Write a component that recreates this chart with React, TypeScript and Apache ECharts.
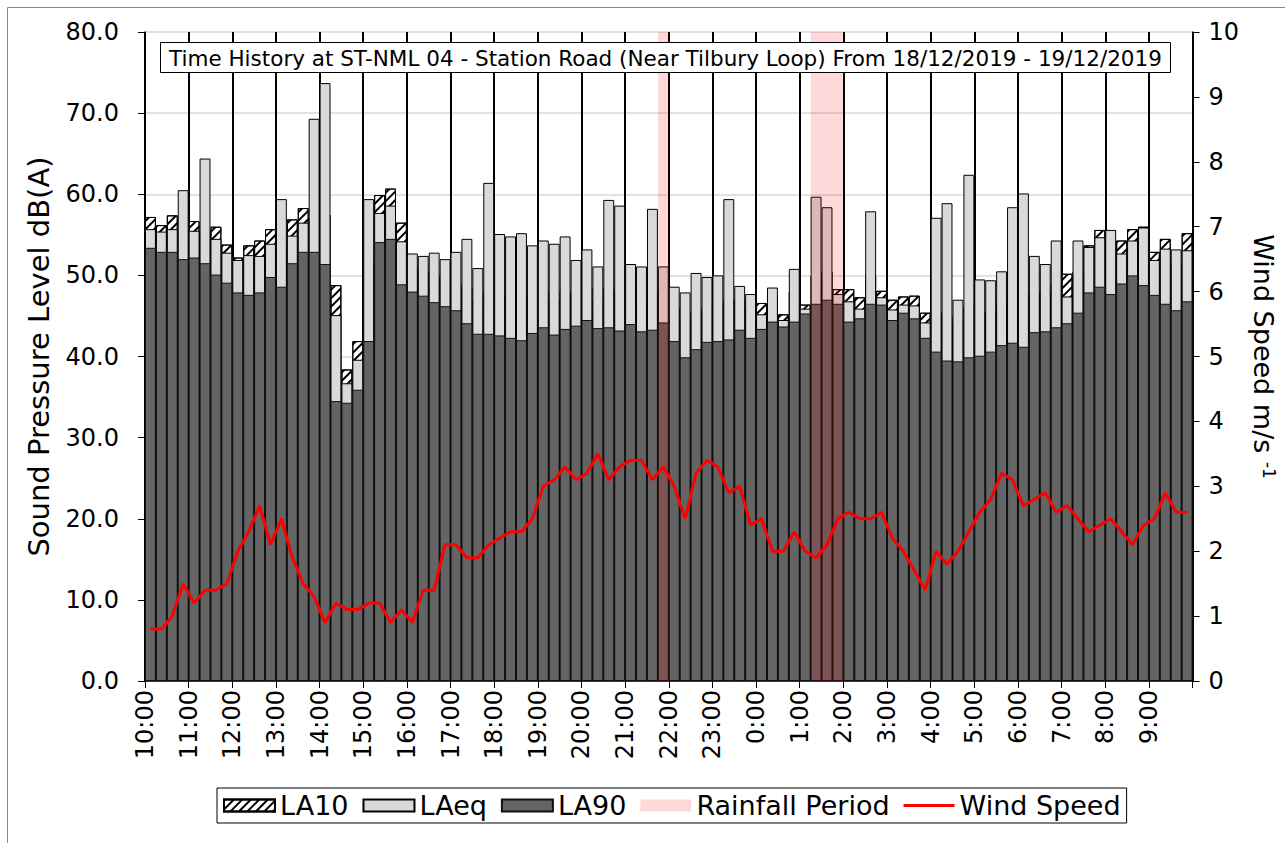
import React, { useEffect, useRef } from 'react';
import * as echarts from 'echarts';

// 15-minute slots from 10:00 (18/12/2019) to 09:45 (19/12/2019)
const timeSlots: string[] = [];
for (let i = 0; i < 96; i++) {
  const h = (10 + Math.floor(i / 4)) % 24;
  const m = (i % 4) * 15;
  timeSlots.push(`${h}:${m === 0 ? '00' : m}`);
}

const hourLabels = [
  '10:00', '11:00', '12:00', '13:00', '14:00', '15:00', '16:00', '17:00',
  '18:00', '19:00', '20:00', '21:00', '22:00', '23:00', '0:00', '1:00',
  '2:00', '3:00', '4:00', '5:00', '6:00', '7:00', '8:00', '9:00',
];

const la10 = [
  57.2, 56.2, 57.4, 55.0, 56.7, 55.5, 56.0, 53.8, 52.2, 53.7, 54.3, 55.7,
  54.0, 56.9, 58.3, 57.0, 57.5, 48.8, 38.4, 41.9, 52.0, 59.9, 60.7, 56.5,
  51.0, 50.5, 50.0, 49.5, 49.0, 48.5, 47.0, 48.0, 47.5, 47.0, 47.0, 47.5,
  48.0, 47.0, 48.0, 47.5, 48.5, 47.0, 48.5, 48.0, 48.0, 47.0, 48.0, 48.5,
  46.0, 44.5, 45.5, 46.0, 46.5, 47.0, 47.0, 46.0, 46.6, 47.5, 45.2, 48.0,
  46.4, 50.0, 50.5, 48.3, 48.3, 47.3, 50.0, 48.1, 47.0, 47.4, 47.5, 45.4,
  45.5, 45.0, 44.0, 46.0, 45.5, 45.5, 46.5, 47.0, 47.5, 48.0, 48.0, 49.0,
  50.2, 50.5, 53.7, 55.6, 54.0, 54.3, 55.7, 56.0, 52.9, 54.5, 51.5, 55.2,
];

const laeq = [
  55.7, 55.4, 55.7, 60.5, 55.5, 64.4, 54.5, 52.8, 51.9, 52.5, 52.4, 53.9,
  59.4, 54.9, 56.5, 69.3, 73.7, 45.1, 36.7, 39.6, 59.4, 57.7, 58.6, 54.2,
  52.7, 52.4, 52.8, 52.0, 52.9, 54.5, 50.9, 61.4, 55.1, 54.8, 55.2, 53.7,
  54.3, 53.9, 54.8, 51.9, 53.2, 51.1, 59.3, 58.6, 51.4, 51.1, 58.2, 51.1,
  48.6, 47.9, 50.3, 49.8, 50.0, 59.4, 48.7, 47.7, 45.2, 48.5, 44.5, 50.8,
  45.9, 59.7, 58.4, 47.7, 46.8, 45.9, 57.9, 47.3, 45.8, 46.4, 46.3, 44.2,
  57.1, 58.9, 47.0, 62.4, 49.5, 49.4, 50.5, 58.4, 60.1, 52.4, 51.4, 54.3,
  47.4, 54.3, 53.5, 54.7, 55.6, 52.7, 54.3, 55.9, 51.9, 53.3, 53.2, 53.1,
];

const la90 = [
  53.4, 52.9, 52.9, 52.0, 52.2, 51.5, 50.1, 49.1, 47.9, 47.6, 47.9, 49.8,
  48.6, 51.5, 52.9, 52.9, 51.4, 34.5, 34.3, 35.9, 41.9, 54.1, 54.5, 48.9,
  48.0, 47.5, 46.7, 46.2, 45.7, 44.1, 42.8, 42.8, 42.6, 42.3, 42.0, 42.9,
  43.6, 42.7, 43.4, 43.8, 44.5, 43.5, 43.6, 43.2, 44.0, 43.1, 43.3, 44.2,
  41.9, 39.9, 40.9, 41.8, 41.9, 42.1, 43.3, 42.3, 43.4, 44.3, 43.7, 44.3,
  45.3, 46.5, 47.0, 46.5, 44.3, 44.7, 46.5, 46.4, 44.5, 45.4, 44.7, 42.3,
  40.6, 39.5, 39.4, 39.9, 40.1, 40.6, 41.4, 41.7, 41.2, 43.0, 43.1, 43.6,
  44.1, 45.4, 47.9, 48.6, 47.7, 49.0, 50.0, 48.8, 47.6, 46.5, 45.7, 46.8,
];

const windSpeed = [
  0.8, 0.8, 1.0, 1.5, 1.2, 1.4, 1.4, 1.5, 2.0, 2.3, 2.7, 2.1,
  2.5, 1.9, 1.5, 1.3, 0.9, 1.2, 1.1, 1.1, 1.2, 1.2, 0.9, 1.1,
  0.9, 1.4, 1.4, 2.1, 2.1, 1.9, 1.9, 2.1, 2.2, 2.3, 2.3, 2.5,
  3.0, 3.1, 3.3, 3.1, 3.2, 3.5, 3.1, 3.3, 3.4, 3.4, 3.1, 3.3,
  3.0, 2.5, 3.2, 3.4, 3.3, 2.9, 3.0, 2.4, 2.5, 2.0, 2.0, 2.3,
  2.0, 1.9, 2.1, 2.5, 2.6, 2.5, 2.5, 2.6, 2.2, 2.0, 1.7, 1.4,
  2.0, 1.8, 2.0, 2.3, 2.6, 2.8, 3.2, 3.1, 2.7, 2.8, 2.9, 2.6,
  2.7, 2.5, 2.3, 2.4, 2.5, 2.3, 2.1, 2.4, 2.5, 2.9, 2.6, 2.6,
];

const rainfallSlots = ['21:45', '1:15', '1:30', '1:45'];
const windAxisMax = 10;

const TITLE =
  'Time History at ST-NML 04 - Station Road (Near Tilbury Loop) From 18/12/2019 - 19/12/2019';

const TICK_FONT = 'DejaVu Sans';

export default function App() {
  const ref = useRef<HTMLDivElement>(null);

  useEffect(() => {
    if (!ref.current) return;
    const chart = echarts.init(ref.current, undefined, { renderer: 'svg' });

    const barCommon = {
      type: 'bar',
      xAxisIndex: 0,
      barGap: '-100%',
      barCategoryGap: '0%',
    };

    const option: any = {
      animation: false,
      backgroundColor: '#ffffff',
      title: {
        text: TITLE,
        left: 160,
        top: 42,
        padding: [5, 9, 4, 9],
        backgroundColor: '#ffffff',
        borderColor: '#000000',
        borderWidth: 1,
        textStyle: {
          fontFamily: TICK_FONT,
          fontSize: 21.5,
          fontWeight: 'normal',
          color: '#000000',
        },
      },
      legend: {
        left: 217,
        top: 788,
        backgroundColor: '#ffffff',
        borderColor: '#000000',
        borderWidth: 1,
        padding: [4, 6, 4, 6],
        itemGap: 14,
        itemWidth: 51,
        itemHeight: 12,
        textStyle: { fontFamily: TICK_FONT, fontSize: 27, color: '#000000' },
        data: [
          { name: 'LA10', icon: 'rect' },
          { name: 'LAeq', icon: 'rect' },
          { name: 'LA90', icon: 'rect' },
          { name: 'Rainfall Period', icon: 'rect' },
          { name: 'Wind Speed', icon: 'path://M0,0 H51 V3 H0 Z' },
        ],
      },
      graphic: [
        {
          type: 'rect',
          silent: true,
          shape: { x: 7.5, y: 7.5, width: 1400, height: 1000 },
          style: { fill: 'none', stroke: '#888888', lineWidth: 1 },
        },
      ],
      grid: { left: 145, top: 32, width: 1052, height: 649, containLabel: false },
      xAxis: [
        {
          type: 'category',
          data: timeSlots,
          boundaryGap: true,
          show: false,
        },
        {
          type: 'value',
          min: 0,
          max: 96,
          interval: 4,
          position: 'bottom',
          axisLine: { show: true, lineStyle: { color: '#000000', width: 1.5 } },
          axisTick: { show: true, length: 7, lineStyle: { color: '#000000', width: 1 } },
          axisLabel: {
            rotate: 90,
            margin: 9,
            fontFamily: TICK_FONT,
            fontSize: 24,
            color: '#000000',
            formatter: (v: number) => (v % 4 === 0 && hourLabels[v / 4] ? hourLabels[v / 4] : ''),
          },
          splitLine: { show: true, lineStyle: { color: '#000000', width: 2 } },
        },
      ],
      yAxis: [
        {
          type: 'value',
          min: 0,
          max: 80,
          interval: 10,
          position: 'left',
          name: 'Sound Pressure Level dB(A)',
          nameLocation: 'middle',
          nameRotate: 90,
          nameGap: 92,
          nameTextStyle: { fontFamily: TICK_FONT, fontSize: 29, color: '#000000' },
          axisLine: { show: true, lineStyle: { color: '#000000', width: 1.5 } },
          axisTick: { show: true, length: 7, lineStyle: { color: '#000000' } },
          axisLabel: {
            margin: 26,
            fontFamily: TICK_FONT,
            fontSize: 24,
            color: '#000000',
            formatter: (v: number) => v.toFixed(1),
          },
          splitLine: { show: true, lineStyle: { color: '#D9D9D9', width: 1.5 } },
        },
        {
          type: 'value',
          min: 0,
          max: windAxisMax,
          interval: 1,
          position: 'right',
          name: '{a|Wind Speed m/s }{b|-1}',
          nameLocation: 'middle',
          nameRotate: -90,
          nameGap: 52,
          nameTextStyle: {
            color: '#000000',
            rich: {
              a: { fontFamily: TICK_FONT, fontSize: 27, color: '#000000' },
              b: { fontFamily: TICK_FONT, fontSize: 17, color: '#000000', verticalAlign: 'top' },
            },
          },
          axisLine: { show: true, lineStyle: { color: '#000000', width: 1.5 } },
          axisTick: { show: true, length: 7, lineStyle: { color: '#000000' } },
          axisLabel: { margin: 16, fontFamily: TICK_FONT, fontSize: 24, color: '#000000' },
          splitLine: { show: false },
        },
      ],
      series: [
        {
          ...barCommon,
          name: 'LA10',
          yAxisIndex: 0,
          data: la10,
          itemStyle: {
            color: '#ffffff',
            borderColor: '#000000',
            borderWidth: 1,
            decal: {
              symbol: 'rect',
              symbolSize: 1,
              color: '#000000',
              backgroundColor: '#ffffff',
              dashArrayX: [1, 0],
              dashArrayY: [2, 4],
              rotation: -Math.PI / 4,
            },
          },
        },
        {
          ...barCommon,
          name: 'LAeq',
          yAxisIndex: 0,
          data: laeq,
          itemStyle: { color: '#D9D9D9', borderColor: '#000000', borderWidth: 1 },
        },
        {
          ...barCommon,
          name: 'LA90',
          yAxisIndex: 0,
          data: la90,
          itemStyle: { color: '#646464', borderColor: '#111111', borderWidth: 1 },
        },
        {
          ...barCommon,
          name: 'Rainfall Period',
          yAxisIndex: 1,
          data: timeSlots.map((t) => (rainfallSlots.includes(t) ? windAxisMax : null)),
          itemStyle: { color: 'rgba(255,0,0,0.15)', borderWidth: 0 },
        },
        {
          type: 'line',
          name: 'Wind Speed',
          xAxisIndex: 0,
          yAxisIndex: 1,
          data: windSpeed,
          symbol: 'none',
          showSymbol: false,
          lineStyle: { color: '#FF0000', width: 3 },
          itemStyle: { color: '#FF0000' },
          z: 5,
        },
      ],
    };

    chart.setOption(option);
    return () => chart.dispose();
  }, []);

  return (
    <div
      ref={ref}
      style={{ position: 'absolute', left: 0, top: 0, width: 1285, height: 843, background: '#fff' }}
    />
  );
}
